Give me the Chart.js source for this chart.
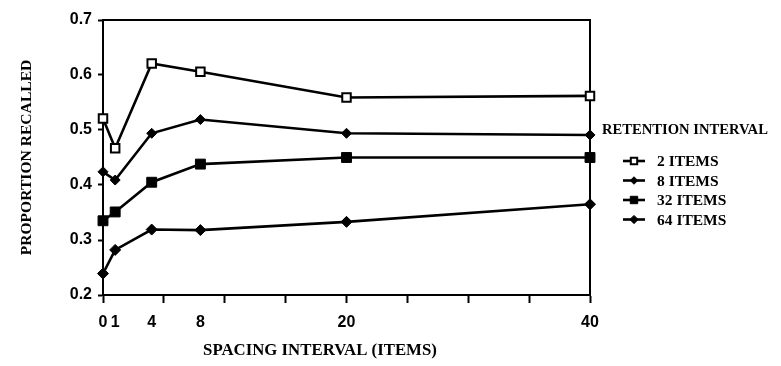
<!DOCTYPE html>
<html><head><meta charset="utf-8">
<style>html,body{margin:0;padding:0;background:#fff;}#wrap{width:781px;height:366px;}</style>
<script src="https://cdn.jsdelivr.net/npm/chart.js@4/dist/chart.umd.min.js"></script>
</head><body><div id="wrap"><canvas id="c" width="781" height="366"></canvas></div>
<script>
const spacing = [0, 1, 4, 8, 20, 40];
const items2 = [0.521, 0.467, 0.621, 0.606, 0.559, 0.562];
const items8 = [0.424, 0.409, 0.494, 0.519, 0.494, 0.491];
const items32 = [0.335, 0.351, 0.405, 0.438, 0.450, 0.450];
const items64 = [0.239, 0.282, 0.319, 0.318, 0.333, 0.365];
const seriesLabels = ['2 ITEMS', '8 ITEMS', '32 ITEMS', '64 ITEMS'];
const xLabelTicks = [0, 1, 4, 8, 20, 40];
const xMarkTicks = [0, 5, 10, 15, 20, 25, 30, 35, 40];
const yTicks = [0.2, 0.3, 0.4, 0.5, 0.6, 0.7];
const xTitle = 'SPACING INTERVAL (ITEMS)';
const yTitle = 'PROPORTION RECALLED';
const legendTitle = 'RETENTION INTERVAL';

const serifFam = '"Liberation Serif", "DejaVu Serif", serif';
const tickFont = {family: '"Liberation Sans", Arial, sans-serif', size: 16, weight: 'bold'};

const styles = [
  {pointStyle: 'rect', pointRadius: 6, pointBackgroundColor: '#fff', pointBorderWidth: 2},
  {pointStyle: 'rectRot', pointRadius: 5, pointBackgroundColor: '#000', pointBorderWidth: 1},
  {pointStyle: 'rect', pointRadius: 7, pointBackgroundColor: '#000', pointBorderWidth: 1},
  {pointStyle: 'rectRot', pointRadius: 5.5, pointBackgroundColor: '#000', pointBorderWidth: 1}
];
const allSeries = [items2, items8, items32, items64];

const datasets = allSeries.map((vals, i) => Object.assign({
  label: seriesLabels[i],
  data: spacing.map((x, j) => ({x: x, y: vals[j]})),
  borderColor: '#000',
  pointBorderColor: '#000',
  borderWidth: 2.6,
  tension: 0,
  clip: false
}, styles[i]));

const allXTicks = Array.from(new Set(xLabelTicks.concat(xMarkTicks))).sort((a, b) => a - b);

const framePlugin = {
  id: 'frame',
  beforeDatasetsDraw(chart) {
    const {ctx, chartArea: a} = chart;
    ctx.save();
    ctx.strokeStyle = '#000';
    ctx.lineWidth = 2;
    ctx.beginPath();
    ctx.moveTo(a.left, a.top);
    ctx.lineTo(a.right, a.top);
    ctx.lineTo(a.right, a.bottom);
    ctx.stroke();
    ctx.restore();
  },
  afterDraw(chart) {
    const {ctx} = chart;
    ctx.save();
    ctx.fillStyle = '#000';
    ctx.font = 'bold 16.8px ' + serifFam;
    ctx.textAlign = 'center';
    ctx.textBaseline = 'middle';
    ctx.fillText(xTitle, 320, 351);
    // legend
    ctx.font = 'bold 14.6px ' + serifFam;
    ctx.textAlign = 'left';
    ctx.fillText(legendTitle, 602, 130);
    ctx.font = 'bold 15.5px ' + serifFam;
    chart.data.datasets.forEach((ds, i) => {
      const y = 161 + i * 19.5;
      ctx.strokeStyle = '#000';
      ctx.lineWidth = 2.6;
      ctx.beginPath();
      ctx.moveTo(623, y);
      ctx.lineTo(645, y);
      ctx.stroke();
      ctx.fillStyle = ds.pointBackgroundColor;
      ctx.strokeStyle = '#000';
      ctx.lineWidth = ds.pointBorderWidth;
      Chart.helpers.drawPoint(ctx, {pointStyle: ds.pointStyle, radius: ds.pointRadius * 0.75, rotation: 0, borderWidth: ds.pointBorderWidth}, 634, y);
      ctx.fillStyle = '#000';
      ctx.fillText(ds.label, 657, y + 1);
    });
    ctx.restore();
  }
};

new Chart(document.getElementById('c'), {
  type: 'line',
  data: {datasets},
  options: {
    responsive: false,
    animation: false,
    layout: {padding: {top: 20, right: 191, bottom: 0, left: 0}},
    plugins: {legend: {display: false}, tooltip: {enabled: false}},
    scales: {
      x: {
        type: 'linear', min: 0, max: 40, offset: false,
        afterBuildTicks(scale) { scale.ticks = allXTicks.map(v => ({value: v})); },
        afterFit(scale) { scale.height = 71; },
        grid: {
          drawOnChartArea: false, drawTicks: true, tickLength: 8, tickWidth: 2,
          tickColor: (ctx) => (ctx.tick && xMarkTicks.includes(ctx.tick.value)) ? '#000' : 'rgba(0,0,0,0)'
        },
        border: {color: '#000', width: 2},
        ticks: {
          autoSkip: false, maxRotation: 0, padding: 10, color: '#000', font: tickFont,
          callback: (v) => xLabelTicks.includes(v) ? String(v) : ''
        }
      },
      y: {
        type: 'linear', min: 0.2, max: 0.7,
        afterBuildTicks(scale) { scale.ticks = yTicks.map(v => ({value: v})); },
        afterFit(scale) { scale.width = 103; },
        grid: {drawOnChartArea: false, drawTicks: true, tickLength: 5, tickWidth: 2, tickColor: '#000'},
        border: {color: '#000', width: 2},
        ticks: {padding: 6, color: '#000', font: tickFont, callback: (v) => Number(v).toFixed(1)},
        title: {
          display: true, text: yTitle, color: '#000',
          font: {family: serifFam, size: 15.6, weight: 'bold'},
          padding: {top: 17.6, bottom: 0}
        }
      }
    }
  },
  plugins: [framePlugin]
});
</script></body></html>
